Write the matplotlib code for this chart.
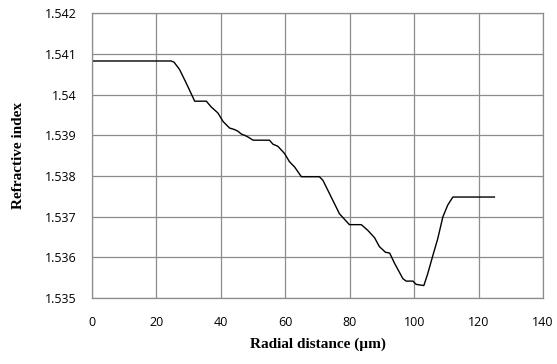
import matplotlib
matplotlib.use("Agg")
import matplotlib.pyplot as plt

# radial distance (um) and refractive index
radius = [0, 24.6, 25.5, 27.2, 29.3, 31.9, 35.5, 37.0, 39.1, 40.7, 42.7, 44.3,
          45.3, 46.4, 47.4, 48.4, 50.0, 55.1, 56.2, 57.7, 59.8, 61.3, 62.9,
          65.0, 70.6, 71.7, 76.8, 79.9, 83.6, 85.6, 87.7, 89.2, 91.1, 92.4,
          93.9, 96.5, 97.5, 99.6, 100.6, 103.0, 104.2, 105.8, 107.3, 108.9,
          110.4, 112.0, 124.9]
index = [1.54083, 1.54083, 1.54080, 1.54062, 1.54028, 1.53984, 1.53984,
         1.53970, 1.53955, 1.53934, 1.53918, 1.53914, 1.53910, 1.53903,
         1.53900, 1.53896, 1.53888, 1.53888, 1.53878, 1.53873, 1.53855,
         1.53835, 1.53822, 1.53798, 1.53798, 1.53789, 1.53707, 1.53680,
         1.53680, 1.53666, 1.53648, 1.53626, 1.53612, 1.53610, 1.53585,
         1.53547, 1.53541, 1.53541, 1.53533, 1.53530, 1.53559, 1.53604,
         1.53645, 1.53699, 1.53728, 1.53748, 1.53748]

x_ticks = [0, 20, 40, 60, 80, 100, 120, 140]
y_ticks = [1.535, 1.536, 1.537, 1.538, 1.539, 1.54, 1.541, 1.542]
y_labels = ["1.535", "1.536", "1.537", "1.538", "1.539", "1.54", "1.541", "1.542"]

fig = plt.figure(figsize=(5.57, 3.64), dpi=100)
ax = fig.add_axes([0.165, 0.182, 0.81, 0.781])

ax.plot(radius, index, color="black", linewidth=1.0)

ax.set_xlim(0, 140)
ax.set_ylim(1.535, 1.542)
ax.set_xticks(x_ticks)
ax.set_yticks(y_ticks)
ax.set_yticklabels(y_labels)
ax.grid(True, color="#8c8c8c", linewidth=0.9)
ax.set_axisbelow(True)
for s in ax.spines.values():
    s.set_color("#8c8c8c")
    s.set_linewidth(0.9)
ax.tick_params(length=0, labelsize=9)
ax.tick_params(axis="x", pad=13)
ax.tick_params(axis="y", pad=11)
for lab in ax.get_xticklabels() + ax.get_yticklabels():
    lab.set_fontfamily("Open Sans")

ax.set_xlabel("Radial distance (\u00b5m)", fontfamily="Liberation Serif",
              fontweight="bold", fontsize=11, labelpad=6)
ax.set_ylabel("Refractive index", fontfamily="Liberation Serif",
              fontweight="bold", fontsize=11, labelpad=14)

fig.savefig("out.png", dpi=100)
